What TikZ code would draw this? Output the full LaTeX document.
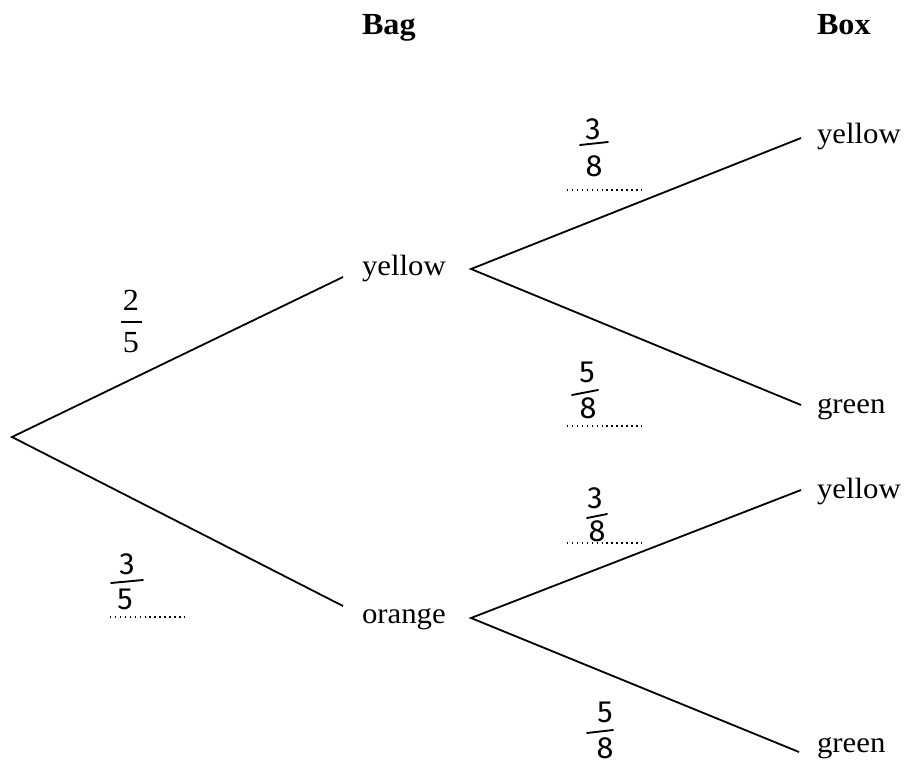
\documentclass[tikz,border=0pt]{standalone}
\usepackage{fontspec}
\setmainfont[FakeStretch=1.05]{Liberation Serif}
\newfontfamily\handfont{Fira Sans}
\begin{document}
\begin{tikzpicture}[x=0.75pt,y=-0.75pt,
  every node/.style={inner sep=0pt, outer sep=0pt},
  lbl/.style={font=\fontsize{22}{26}\selectfont, anchor=base west},
  head/.style={font=\fontsize{23}{27}\selectfont\bfseries, anchor=base west},
  printed/.style={font=\fontsize{23}{26}\selectfont},
  branch/.style={line width=1.35pt, black},
  hand/.style={font=\handfont\fontsize{23}{26}\selectfont},
  handbar/.style={line width=1.4pt, line cap=round},
  answer/.style={line width=1.1pt, dash pattern=on 1.1pt off 2.6pt}
]
\useasboundingbox (0,0) rectangle (906,767);

% headings
\node[head] (bag) at (362,35) {Bag};
\node[head] (box) at (817,35) {Box};

% outcome labels
\node[lbl] (y1) at (362,275) {yellow};
\node[lbl] (o1) at (362,623) {orange};
\node[lbl] (y2) at (817,143) {yellow};
\node[lbl] (g2) at (817,413) {green};
\node[lbl] (y3) at (817,498) {yellow};
\node[lbl] (g3) at (817,752) {green};

% branch end points
\coordinate (root) at (12,437);
\coordinate (y1in) at (343,277);
\coordinate (y1out) at (471,269);
\coordinate (o1in) at (343,606);
\coordinate (o1out) at (471,618);
\coordinate (y2in) at (801,138);
\coordinate (g2in) at (801,405);
\coordinate (y3in) at (801,490);
\coordinate (g3in) at (799,752);

\draw[branch] (y1in) -- (root) -- (o1in);
\draw[branch] (y2in) -- (y1out) -- (g2in);
\draw[branch] (y3in) -- (o1out) -- (g3in);

% printed fraction 2/5
\node[printed] (n25) at (131,300) {2};
\node[printed] (d25) at (131,343) {5};
\draw[line width=1pt] (121,322) -- (142,322);

% handwritten answers
\node[hand] (n1) at (593,129) {3};
\draw[handbar] (580,145) -- (608,142);
\node[hand] (d1) at (594,166) {8};
\draw[answer] (567,190) -- (642,190);

\node[hand] (n2) at (587,372) {5};
\draw[handbar] (572,395) -- (598,390);
\node[hand] (d2) at (588,408) {8};
\draw[answer] (567,426) -- (642,426);

\node[hand] (n3) at (595,498) {3};
\draw[handbar] (587,518) -- (607,514);
\node[hand] (d3) at (597,531) {8};
\draw[answer] (567,543) -- (642,543);

\node[hand] (n4) at (127,564) {3};
\draw[handbar] (111,583) -- (143,580);
\node[hand] (d4) at (125,599) {5};
\draw[answer] (110,617) -- (187,617);

\node[hand] (n5) at (605,712) {5};
\draw[handbar] (587,733) -- (613,730);
\node[hand] (d5) at (605,748) {8};
\end{tikzpicture}
\end{document}
